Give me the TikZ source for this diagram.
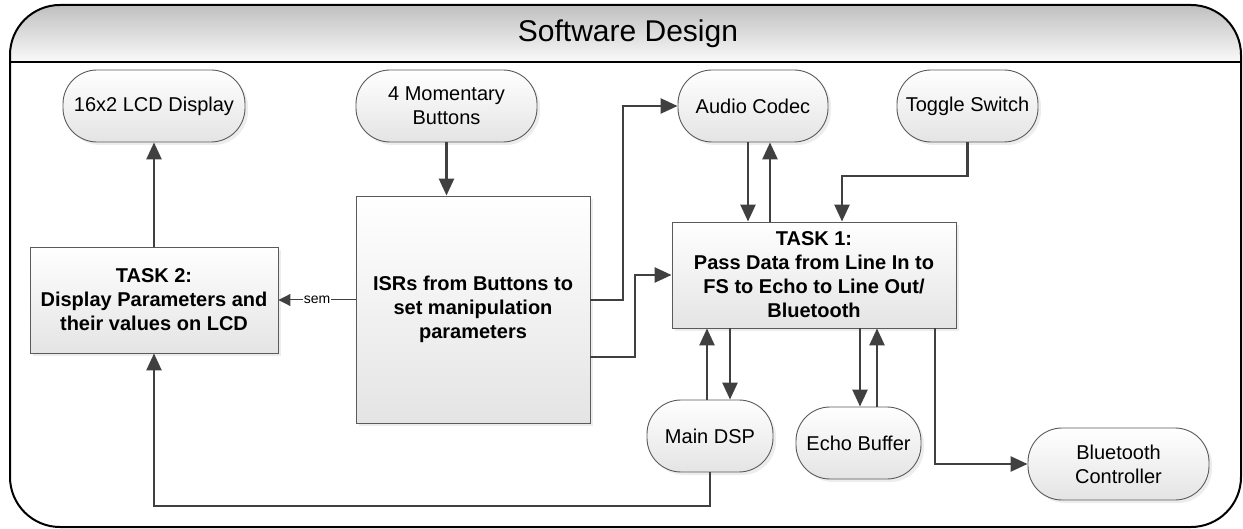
\documentclass[tikz,border=0pt]{standalone}
\usepackage{fontspec}
\setmainfont{Liberation Sans}
\usetikzlibrary{arrows.meta,shadows,calc}
\definecolor{connc}{HTML}{404040}
\definecolor{bordc}{HTML}{5A5A5A}
\definecolor{fillbot}{HTML}{E4E4E4}
\tikzset{
 base/.style={draw=bordc, line width=0.9pt, top color=white, bottom color=fillbot,
   drop shadow={shadow xshift=3pt, shadow yshift=-3pt, fill=black!14},
   align=center, inner sep=0pt, text=black},
 term/.style={base, rounded corners=34pt, minimum height=72pt, font=\fontsize{20}{24}\selectfont},
 task/.style={base, font=\bfseries\fontsize{20}{24}\selectfont},
 conn/.style={draw=connc, line width=2.6pt, -{Triangle[length=17pt,width=15pt]}},
 semline/.style={draw=connc, line width=1pt, -{Triangle[length=12pt,width=12pt]}},
}
\begin{document}
\begin{tikzpicture}[x=1pt,y=-1pt]
\useasboundingbox (0,0) rectangle (1243,529);
% frame and title band
\begin{scope}
\clip[rounded corners=50pt] (10,5) rectangle (1241,527);
\shade[top color=black!25, bottom color=black!2] (10,5) rectangle (1241,62);
\end{scope}
\draw[line width=2pt, rounded corners=50pt] (10,5) rectangle (1241,527);
\draw[line width=2.6pt] (10,62) -- (1241,62);
\node[font=\fontsize{30}{34}\selectfont] (title) at (628,34) {Software Design};

% nodes
\node[term, minimum width=182pt] (lcd) at (154,106) {16x2 LCD Display};
\node[term, minimum width=181pt] (btn) at (446.5,106) {4 Momentary\\Buttons};
\node[term, minimum width=150pt] (codec) at (753,106) {Audio Codec};
\node[term, minimum width=141pt] (toggle) at (967.5,106) {Toggle Switch};
\node[task, minimum width=248pt, minimum height=106pt] (task2) at (154,300) {TASK 2:\\Display Parameters and\\their values on LCD};
\node[task, minimum width=234pt, minimum height=227pt] (isr) at (473,309.5) {ISRs from Buttons to\\set manipulation\\parameters};
\node[task, minimum width=284pt, minimum height=106pt] (task1) at (814,275) {TASK 1:\\Pass Data from Line In to\\FS to Echo to Line Out/\\Bluetooth};
\node[term, minimum width=126pt] (dsp) at (710,436) {Main DSP};
\node[term, minimum width=125pt] (echo) at (858.5,443) {Echo Buffer};
\node[term, minimum width=181pt] (bt) at (1118.5,464) {Bluetooth\\Controller};

% connectors
\draw[conn] (task2.north) -- (lcd.south);
\draw[conn] (btn.south) -- (btn.south |- isr.north);
\draw[conn] (isr.east |- 0,300) -- (623,300) |- (codec.west);
\draw[conn] (isr.east |- 0,357) -- (635,357) |- (task1.west);
\draw[conn] (codec.south -| 748,0) -- (task1.north -| 748,0);
\draw[conn] (task1.north -| 770,0) -- (codec.south -| 770,0);
\draw[conn] (toggle.south) |- (842,176) -- (task1.north -| 842,0);
\draw[conn] (dsp.north -| 707,0) -- (task1.south -| 707,0);
\draw[conn] (task1.south -| 730,0) -- (dsp.north -| 730,0);
\draw[conn] (task1.south -| 860,0) -- (echo.north -| 860,0);
\draw[conn] (echo.north -| 877,0) -- (task1.south -| 877,0);
\draw[conn] (task1.south -| 935,0) |- (bt.west);
\draw[conn] (dsp.south) |- (task2.south |- 0,506) -- (task2.south);
\draw[semline] (isr.west |- task2.east) -- (task2.east)
  node[pos=0.5, fill=white, inner sep=1pt, font=\fontsize{14}{16}\selectfont] (semlbl) {sem};
\end{tikzpicture}
\end{document}
